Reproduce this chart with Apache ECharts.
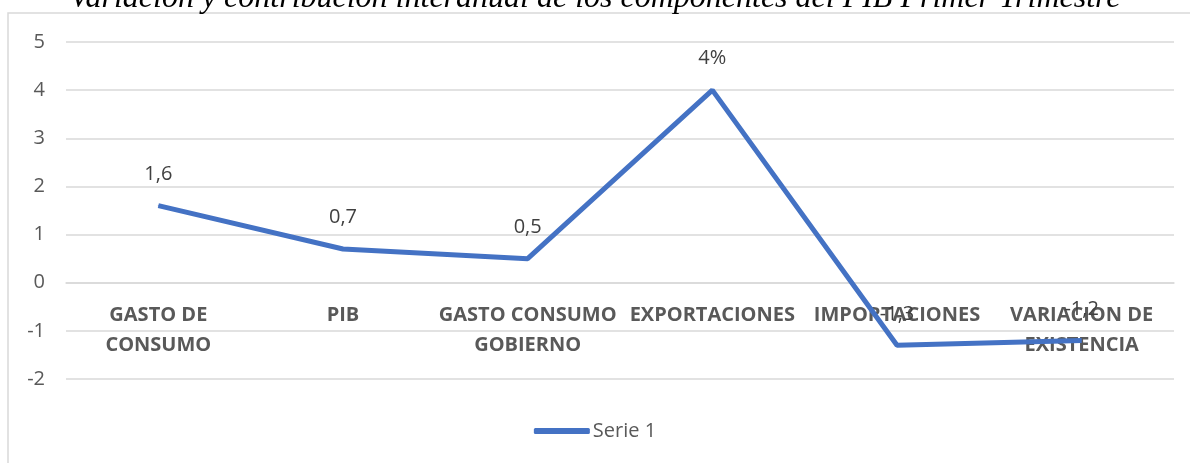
<!DOCTYPE html>
<html><head><meta charset="utf-8">
<script src="https://cdn.jsdelivr.net/npm/echarts@6/dist/echarts.min.js"></script>
<style>html,body{margin:0;padding:0;background:#fff}#c{width:1190px;height:463px}</style>
</head><body><div id="c"></div>
<script>
const titleText = 'Variación y contribución interanual de los componentes del PIB Primer Trimestre';
const categories = ['GASTO DE\nCONSUMO', 'PIB', 'GASTO CONSUMO\nGOBIERNO', 'EXPORTACIONES', 'IMPORTACIONES', 'VARIACION DE\nEXISTENCIA'];
const values = [1.6, 0.7, 0.5, 4, -1.3, -1.2];
const valueLabels = ['1,6', '0,7', '0,5', '4%', '-1,3', '-1,2'];
const seriesName = 'Serie 1';
const font = '"Open Sans", "Noto Sans", sans-serif';
const chart = echarts.init(document.getElementById('c'));
chart.setOption({
  animation: false,
  title: { text: titleText, left: 'center', top: -22,
    textStyle: { fontFamily: '"Liberation Serif", serif', fontStyle: 'italic', fontWeight: 'normal', fontSize: 32, color: '#000' } },
  graphic: [{ type: 'rect', shape: { x: 8, y: 13, width: 1200, height: 470 }, style: { fill: 'none', stroke: '#d9d9d9', lineWidth: 1.5 }, z: -1 }],
  legend: { bottom: 17, left: 'center', itemWidth: 56, itemHeight: 6, icon: 'roundRect', itemGap: 10,
    textStyle: { fontFamily: font, fontSize: 20, color: '#595959', padding: [0, 0, 0, -2] } },
  grid: { left: 66, right: 16, top: 42, bottom: 84 },
  xAxis: { type: 'category', data: categories, boundaryGap: true, position: 'bottom', offset: -96,
    axisLine: { onZero: false, lineStyle: { color: '#d9d9d9', width: 1.5 } }, axisTick: { show: false },
    axisLabel: { interval: 0, margin: 17, verticalAlign: 'top', fontFamily: font, fontWeight: 'bold', fontSize: 20, color: '#595959', lineHeight: 30 } },
  yAxis: { type: 'value', min: -2, max: 5, interval: 1,
    axisLine: { show: false }, axisTick: { show: false },
    splitLine: { lineStyle: { color: '#d9d9d9', width: 1.5 } },
    axisLabel: { margin: 21, fontFamily: font, fontSize: 20, color: '#595959' } },
  series: [{ name: seriesName, type: 'line', data: values, symbol: 'circle', symbolSize: 1, showSymbol: true,
    lineStyle: { color: '#4472C4', width: 5 }, itemStyle: { color: '#4472C4' },
    label: { show: true, position: 'top', distance: 21, fontFamily: font, fontSize: 20, color: '#404040',
      formatter: p => valueLabels[p.dataIndex] } }]
});
</script></body></html>
